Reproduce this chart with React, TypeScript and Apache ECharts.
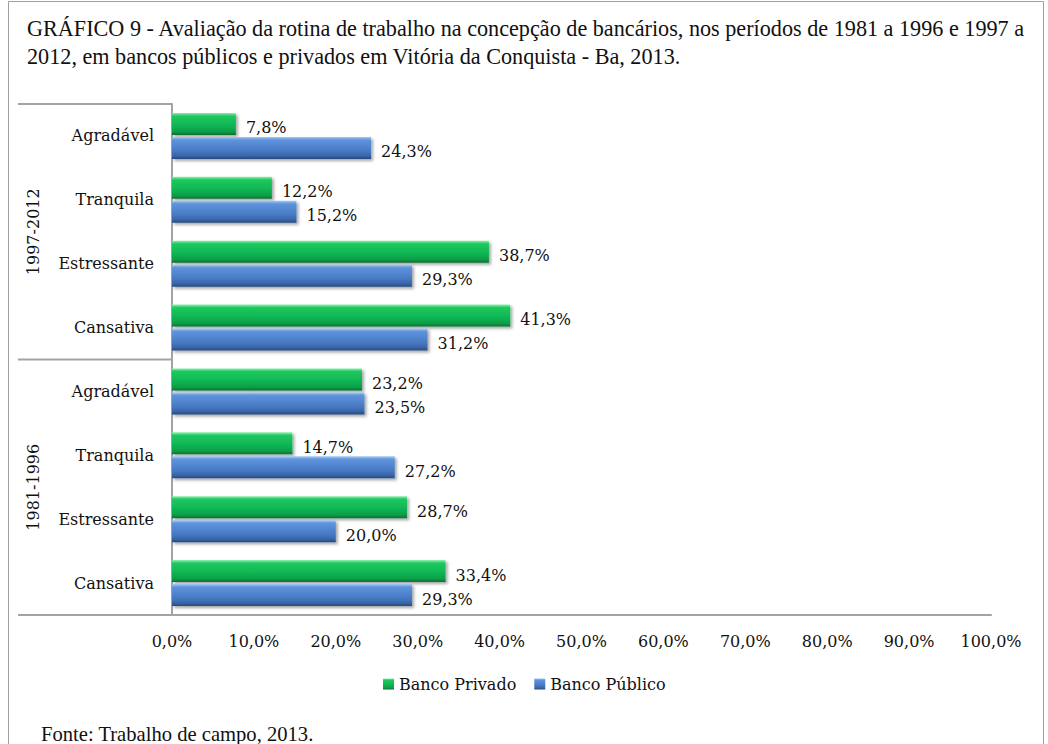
import React, { useEffect, useRef } from "react";
import * as echarts from "echarts";

const categories = ["Agradável", "Tranquila", "Estressante", "Cansativa", "Agradável", "Tranquila", "Estressante", "Cansativa"];
const periods = ["1997-2012", "1981-1996"];
const periodSize = 4;
const bancoPrivado = [7.8, 12.2, 38.7, 41.3, 23.2, 14.7, 28.7, 33.4];
const bancoPublico = [24.3, 15.2, 29.3, 31.2, 23.5, 27.2, 20.0, 29.3];
const seriesNames = ["Banco Privado", "Banco Público"];
const titleLines = [
  "GRÁFICO 9 - Avaliação da rotina de trabalho na concepção de bancários, nos períodos de 1981 a 1996 e 1997 a",
  "2012, em bancos públicos e privados em Vitória da Conquista - Ba, 2013.",
];
const sourceText = "Fonte: Trabalho de campo, 2013.";

const SERIF = '"DejaVu Serif", serif';
const TIMES = '"Liberation Serif", "Times New Roman", serif';
const LINE = "#a3a3a3";

const fmt = (v: number) => v.toFixed(1).replace(".", ",") + "%";

export default function App() {
  const ref = useRef<HTMLDivElement>(null);

  useEffect(() => {
    if (!ref.current) return;
    const chart = echarts.init(ref.current, null, { renderer: "svg" });

    const green = new echarts.graphic.LinearGradient(0, 0, 0, 1, [
      { offset: 0, color: "#8ef0b0" },
      { offset: 0.14, color: "#1ec860" },
      { offset: 0.6, color: "#0fb453" },
      { offset: 0.85, color: "#0c9e47" },
      { offset: 1, color: "#0a6f34" },
    ]);
    const blue = new echarts.graphic.LinearGradient(0, 0, 0, 1, [
      { offset: 0, color: "#a4c8f6" },
      { offset: 0.14, color: "#5e93dc" },
      { offset: 0.6, color: "#4a7cc6" },
      { offset: 0.85, color: "#3a66ab" },
      { offset: 1, color: "#274a7d" },
    ]);

    const makeSeries = (name: string, data: number[], color: any) => ({
      name,
      type: "bar",
      data,
      barWidth: 22,
      barGap: "9%",
      itemStyle: {
        color,
        shadowColor: "rgba(0,0,0,0.35)",
        shadowBlur: 3,
        shadowOffsetX: 2,
        shadowOffsetY: 2,
      },
      label: {
        show: true,
        position: "right",
        distance: 10,
        offset: [0, 4],
        formatter: (p: any) => fmt(p.value),
        fontFamily: SERIF,
        fontSize: 16,
        color: "#111",
      },
    });

    chart.setOption({
      animation: false,
      backgroundColor: "#ffffff",
      grid: { left: 172, right: 57, top: 104, bottom: 129, containLabel: false },
      legend: {
        data: seriesNames,
        left: 383,
        top: 676,
        padding: 0,
        icon: "rect",
        itemWidth: 11,
        itemHeight: 11,
        itemGap: 18,
        textStyle: { fontFamily: SERIF, fontSize: 16, color: "#111" },
      },
      xAxis: {
        type: "value",
        min: 0,
        max: 100,
        interval: 10,
        splitLine: { show: false },
        axisTick: { show: false },
        axisLine: { show: true, lineStyle: { color: LINE, width: 2 } },
        axisLabel: {
          margin: 18,
          formatter: (v: number) => fmt(v),
          fontFamily: SERIF,
          fontSize: 16,
          color: "#111",
        },
      },
      yAxis: {
        type: "category",
        inverse: true,
        data: categories.map((c, i) => c + "|" + i),
        axisTick: { show: false },
        axisLine: { show: true, lineStyle: { color: LINE, width: 2 } },
        axisLabel: {
          margin: 18,
          formatter: (v: string) => v.split("|")[0],
          fontFamily: SERIF,
          fontSize: 16,
          color: "#111",
        },
      },
      series: [
        makeSeries(seriesNames[0], bancoPrivado, green),
        makeSeries(seriesNames[1], bancoPublico, blue),
      ],
    });

    const py = (i: number) => chart.convertToPixel({ yAxisIndex: 0 }, categories[i] + "|" + i) as number;
    const band = py(1) - py(0);
    const top = py(0) - band / 2;
    const bottom = py(categories.length - 1) + band / 2;
    const axisLeft = chart.convertToPixel({ xAxisIndex: 0 }, 0) as number;

    const graphics: any[] = [
      {
        type: "rect",
        shape: { x: 8.5, y: 1.5, width: 1035, height: 800 },
        style: { fill: "none", stroke: "#a0a0a0", lineWidth: 1 },
        silent: true,
      },
      {
        type: "text",
        left: 27,
        top: 14,
        style: {
          text: titleLines.join("\n"),
          font: `22.2px ${TIMES}`,
          lineHeight: 28,
          fill: "#111",
        },
      },
      {
        type: "text",
        left: 41,
        top: 723,
        style: { text: sourceText, font: `20.6px ${TIMES}`, fill: "#111" },
      },
      {
        type: "line",
        shape: { x1: 18, y1: top, x2: axisLeft, y2: top },
        style: { stroke: LINE, lineWidth: 2 },
      },
      {
        type: "line",
        shape: { x1: 18, y1: bottom, x2: axisLeft, y2: bottom },
        style: { stroke: LINE, lineWidth: 2 },
      },
    ];

    periods.forEach((p, g) => {
      const first = g * periodSize;
      const last = first + periodSize - 1;
      const cy = (py(first) + py(last)) / 2;
      graphics.push({
        type: "text",
        x: 33,
        y: cy,
        rotation: Math.PI / 2,
        style: {
          text: p,
          font: `16px ${SERIF}`,
          fill: "#111",
          align: "center",
          verticalAlign: "middle",
        },
      });
      if (g > 0) {
        const sep = (py(first - 1) + py(first)) / 2;
        graphics.push({
          type: "line",
          shape: { x1: 18, y1: sep, x2: axisLeft, y2: sep },
          style: { stroke: LINE, lineWidth: 2 },
        });
      }
    });

    chart.setOption({ graphic: graphics });

    return () => chart.dispose();
  }, []);

  return (
    <div
      ref={ref}
      style={{ position: "absolute", left: 0, top: 0, width: 1048, height: 744, background: "#fff" }}
    />
  );
}
